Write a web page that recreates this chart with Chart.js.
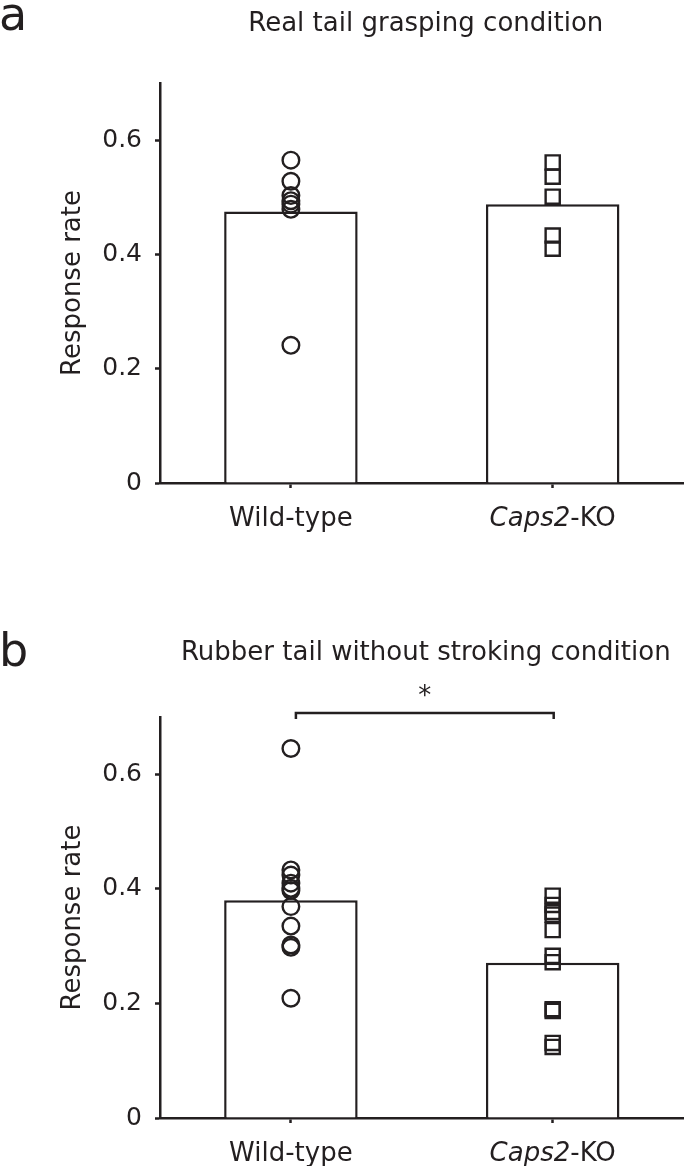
<!DOCTYPE html>
<html>
<head>
<meta charset="utf-8">
<script src="https://cdn.jsdelivr.net/npm/chart.js@4.4.1/dist/chart.umd.min.js"></script>
<style>
  html, body { margin: 0; padding: 0; background: #fff; overflow: hidden; }
  #wrap { position: relative; width: 685px; height: 1166px; overflow: hidden; }
  .panel { position: absolute; left: 0; width: 696px; }
</style>
</head>
<body>
<div id="wrap">
  <div class="panel" style="top:0;height:590px"><canvas id="chartA" width="696" height="590"></canvas></div>
  <div class="panel" style="top:590px;height:576px"><canvas id="chartB" width="696" height="576"></canvas></div>
</div>
<script>
// 그룹 및 값
const groups = ["Wild-type", "Caps2-KO"];
const yTicks = [0, 0.2, 0.4, 0.6];
const yMax = 0.7;

// a: Real tail grasping
const meanA = [0.475, 0.488];
const wildA = [0.565, 0.528, 0.503, 0.494, 0.488, 0.479, 0.241];
const koA = [0.561, 0.536, 0.501, 0.433, 0.41];

// b: Rubber tail without stroking
const meanB = [0.38, 0.271];
const wildB = [0.645, 0.433, 0.424, 0.41, 0.401, 0.397, 0.369, 0.335, 0.302, 0.298, 0.209];
const koB = [0.388, 0.372, 0.36, 0.355, 0.328, 0.283, 0.272, 0.19, 0.187, 0.131, 0.124];
const sigLevelB = 0.707;
const sigMark = "*";

const ink = "#231f20";
const fontFamily = "'DejaVu Sans', sans-serif";

// x축 라벨 (Caps2 는 이탤릭)
const xLabelParts = [
  [{ text: "Wild-type", italic: false }],
  [{ text: "Caps2", italic: true }, { text: "-KO", italic: false }],
];

const panelDecor = {
  id: "panelDecor",
  afterDraw(chart, args, opts) {
    const ctx = chart.ctx;
    const area = chart.chartArea;
    const xs = chart.scales.x;
    const ys = chart.scales.y;
    ctx.save();
    ctx.fillStyle = ink;
    ctx.textBaseline = "alphabetic";

    // 패널 문자
    ctx.font = "46px " + fontFamily;
    ctx.textAlign = "left";
    ctx.fillText(opts.letter, -1, opts.letterY);

    // 제목
    ctx.font = "26px " + fontFamily;
    ctx.textAlign = "center";
    ctx.fillText(opts.title, (area.left + area.right) / 2 + 4, opts.titleY);

    // x축 라벨
    ctx.textAlign = "left";
    ctx.textBaseline = "middle";
    xLabelParts.forEach((parts, i) => {
      let total = 0;
      parts.forEach((p) => {
        ctx.font = (p.italic ? "italic " : "") + "26px " + fontFamily;
        total += ctx.measureText(p.text).width;
      });
      let x = xs.getPixelForValue(i) - total / 2;
      parts.forEach((p) => {
        ctx.font = (p.italic ? "italic " : "") + "26px " + fontFamily;
        ctx.fillText(p.text, x, area.bottom + opts.labelOffset);
        x += ctx.measureText(p.text).width;
      });
    });

    // 유의성 표시
    if (opts.sig) {
      const x1 = xs.getPixelForValue(0) + 5;
      const x2 = xs.getPixelForValue(1) + 1;
      const y = ys.getPixelForValue(opts.sig.level);
      ctx.strokeStyle = ink;
      ctx.lineWidth = 2.5;
      ctx.beginPath();
      ctx.moveTo(x1, y + 6);
      ctx.lineTo(x1, y);
      ctx.lineTo(x2, y);
      ctx.lineTo(x2, y + 6);
      ctx.stroke();
      ctx.font = "26px " + fontFamily;
      ctx.textAlign = "center";
      ctx.textBaseline = "middle";
      ctx.fillText(opts.sig.mark, (x1 + x2) / 2, y - 16);
    }
    ctx.restore();
  },
};

function makePanel(canvasId, means, wild, ko, decor, pad, xHeight) {
  return new Chart(document.getElementById(canvasId), {
    data: {
      labels: groups,
      datasets: [
        {
          type: "bar",
          data: means,
          backgroundColor: "#ffffff",
          borderColor: ink,
          borderWidth: 2.5,
          barPercentage: 0.51,
          categoryPercentage: 1.0,
          order: 2,
        },
        {
          type: "scatter",
          data: wild.map((v) => ({ x: groups[0], y: v })),
          pointStyle: "circle",
          pointRadius: 8.3,
          pointBorderWidth: 2.4,
          pointBorderColor: ink,
          pointBackgroundColor: "rgba(0,0,0,0)",
          clip: false,
          order: 1,
        },
        {
          type: "scatter",
          data: ko.map((v) => ({ x: groups[1], y: v })),
          pointStyle: "rect",
          pointRadius: 10,
          pointBorderWidth: 2.4,
          pointBorderColor: ink,
          pointBackgroundColor: "rgba(0,0,0,0)",
          clip: false,
          order: 1,
        },
      ],
    },
    options: {
      responsive: false,
      maintainAspectRatio: false,
      animation: false,
      events: [],
      layout: {
        padding: { left: 0, right: 0, top: pad.top, bottom: pad.bottom },
      },
      scales: {
        x: {
          type: "category",
          offset: true,
          grid: {
            display: true,
            drawOnChartArea: false,
            drawTicks: true,
            tickLength: 5,
            tickWidth: 2.5,
            tickColor: ink,
            offset: false,
          },
          border: { display: true, color: ink, width: 2.5 },
          ticks: { display: false },
          afterFit: (s) => {
            s.height = xHeight;
          },
        },
        y: {
          min: 0,
          max: yMax,
          afterBuildTicks: (s) => {
            s.ticks = yTicks.map((v) => ({ value: v }));
          },
          grid: {
            display: true,
            drawOnChartArea: false,
            drawTicks: true,
            tickLength: 5,
            tickWidth: 2.5,
            tickColor: ink,
          },
          border: { display: true, color: ink, width: 2.5 },
          ticks: {
            color: ink,
            padding: 13,
            font: { family: fontFamily, size: 25 },
            callback: (v) => (v === 0 ? "0" : v.toFixed(1)),
          },
          title: {
            display: true,
            text: "Response rate",
            color: ink,
            font: { family: fontFamily, size: 26 },
            padding: { top: 58, bottom: 0 },
          },
          afterFit: (s) => {
            s.width = 160;
          },
        },
      },
      plugins: {
        legend: { display: false },
        tooltip: { enabled: false },
        panelDecor: decor,
      },
    },
    plugins: [panelDecor],
  });
}

makePanel(
  "chartA",
  meanA,
  wildA,
  koA,
  { letter: "a", letterY: 30, title: "Real tail grasping condition", titleY: 31, labelOffset: 36, sig: null },
  { top: 83, bottom: 47 },
  60
);

makePanel(
  "chartB",
  meanB,
  wildB,
  koB,
  {
    letter: "b",
    letterY: 76,
    title: "Rubber tail without stroking condition",
    titleY: 70,
    labelOffset: 36,
    sig: { level: sigLevelB, mark: sigMark },
  },
  { top: 127, bottom: 8 },
  40
);
</script>
</body>
</html>
